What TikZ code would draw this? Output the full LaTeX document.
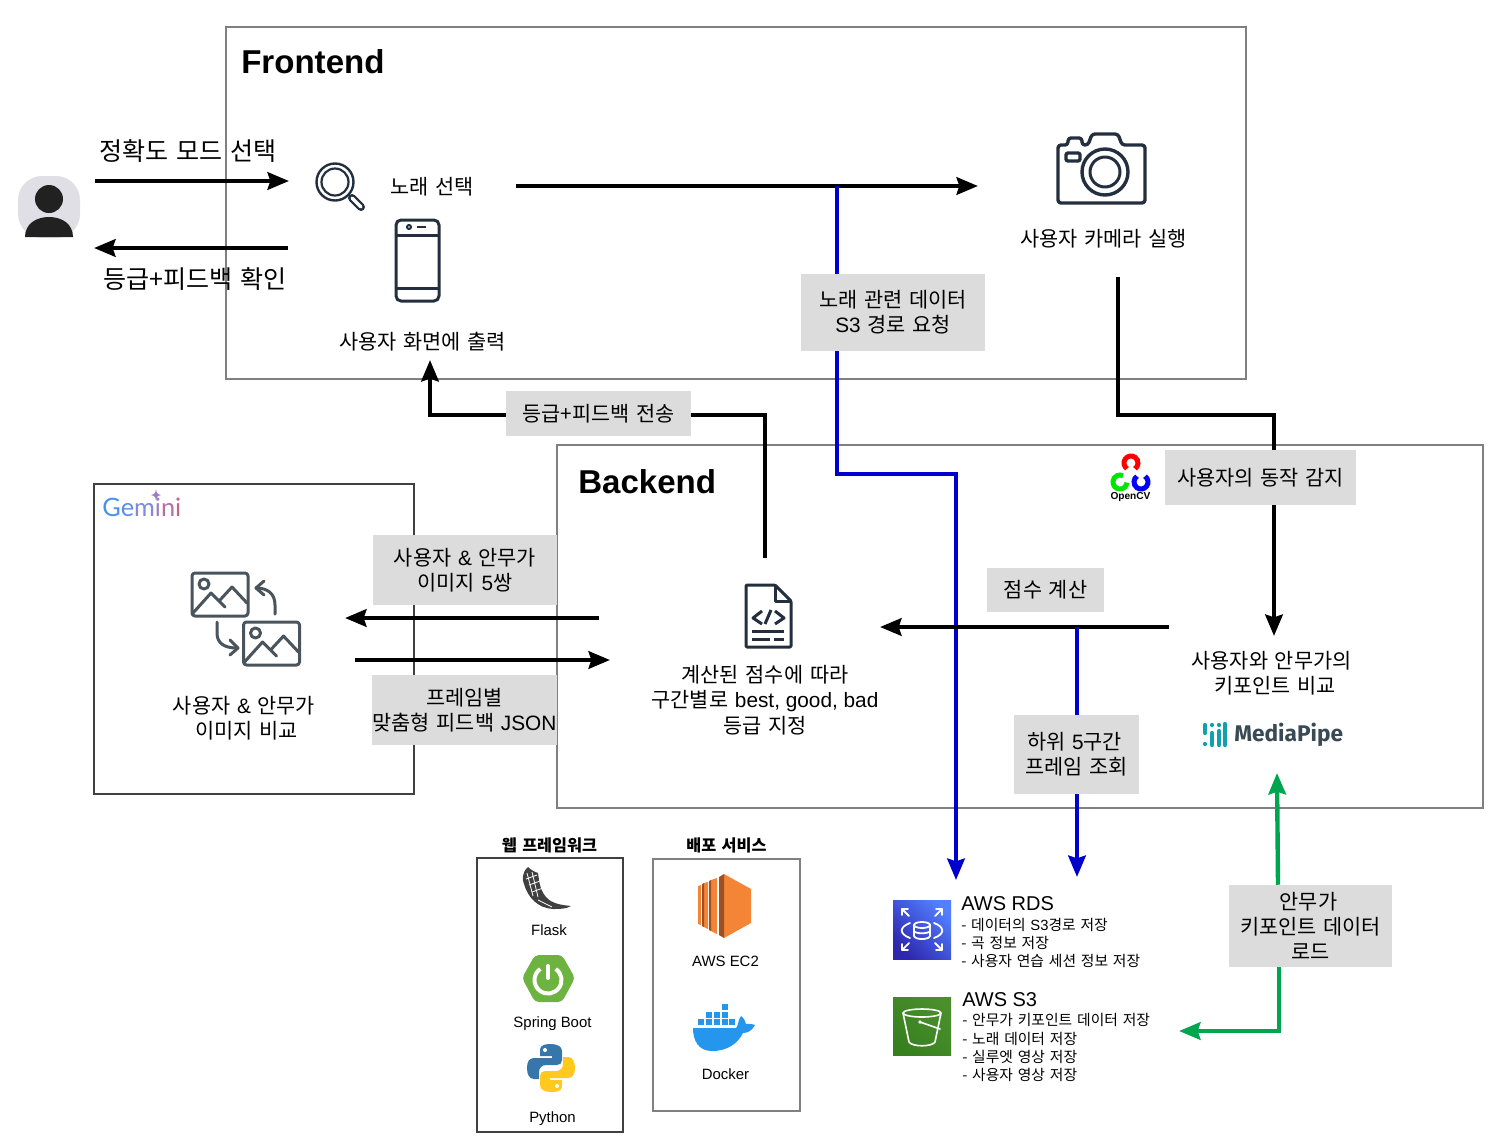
\documentclass[tikz,border=0pt]{standalone}
\usepackage{fontspec}
\setmainfont{Liberation Sans}
\newfontfamily\krfont[WordSpace=1.45]{Noto Sans CJK KR}
\newfontfamily\logofont{Lato}
\newfontfamily\brandfont{Fira Sans}
\usetikzlibrary{arrows.meta, shapes.geometric}
\newdimen\pxu
\pxu=.75pt
\newcommand{\lat}[1]{{\rmfamily #1}}
\newcommand{\krsize}[2]{\krfont\fontsize{#1}{#2}\selectfont}
\definecolor{boxgray}{HTML}{DCDCDC}
\definecolor{framegray}{HTML}{808080}
\definecolor{icondark}{HTML}{232F3E}
\definecolor{imgdark}{HTML}{4A545C}
\definecolor{linkblue}{HTML}{0000CC}
\definecolor{linkgreen}{HTML}{00A550}
\definecolor{usergray}{HTML}{DFDFE5}
\definecolor{mediateal}{HTML}{12A0AE}
\definecolor{mediatext}{HTML}{3A4A55}
\definecolor{springgreen}{HTML}{6DB33F}
\definecolor{pyblue}{HTML}{3776AB}
\definecolor{pyyellow}{HTML}{FFC91E}
\definecolor{rdsdark}{HTML}{2E27AD}
\definecolor{rdslight}{HTML}{527FFF}
\definecolor{sthreedark}{HTML}{38801F}
\definecolor{sthreelight}{HTML}{4A8F2C}
\definecolor{geminiA}{HTML}{4A90F0}
\definecolor{geminiB}{HTML}{5B8DE8}
\definecolor{geminiC}{HTML}{7F8ADA}
\definecolor{geminiD}{HTML}{9C7EC6}
\definecolor{geminiE}{HTML}{B56FA8}
\definecolor{geminiF}{HTML}{C9628A}
\tikzstyle{frame} = [draw=framegray, line width=1.1\pxu]
\tikzstyle{labelbox} = [rectangle,
	fill=boxgray,
	inner sep=0pt,
	text centered,
	align=center,
	font=\krsize{15.6}{18.9}
	]
\tikzstyle{caption} = [inner sep=0pt,
	text centered,
	align=center,
	font=\krsize{15.6}{18.9}
	]
\tikzstyle{bigcaption} = [caption, font=\krsize{18.8}{22}]
\tikzstyle{smalltitle} = [caption, font=\krsize{12.2}{14}\bfseries]
\tikzstyle{techname} = [inner sep=0pt, font=\fontsize{11.2}{13}\selectfont]
\tikzstyle{sectiontitle} = [inner sep=0pt, anchor=west, font=\bfseries\fontsize{24.8}{28}\selectfont]
\tikzstyle{awstitle} = [inner sep=0pt, anchor=west, font=\fontsize{15}{18}\selectfont]
\tikzstyle{awslist} = [inner sep=0pt, anchor=west, font=\krsize{11.1}{13}]
\tikzstyle{iconline} = [draw=icondark, line width=3\pxu, line join=round]
\tikzstyle{imgline} = [draw=imgdark, line width=3\pxu, line join=round, line cap=round]
\tikzstyle{arrow} = [line width=4.4\pxu, -{Stealth[length=16pt, width=13pt, inset=2pt]}]
\tikzstyle{plainlink} = [line width=4.4\pxu]
\tikzstyle{bluearrow} = [arrow, draw=linkblue]
\tikzstyle{bluelink} = [plainlink, draw=linkblue]
\tikzstyle{greenarrow} = [arrow, draw=linkgreen]
\begin{document}
\begin{tikzpicture}[x=.75pt, y=-.75pt]
\useasboundingbox (0,0) rectangle (1509,1143);

\draw [frame] (226,27) rectangle (1246,379);
\draw [frame] (557,445) rectangle (1483,808);
\draw [frame, draw=black!75] (94,484) rectangle (414,794);
\draw [frame, draw=black!75] (477,858) rectangle (623,1132);
\draw [frame] (653,859) rectangle (800,1111);

\node (frontend) [sectiontitle] at (241,62) {Frontend};
\node (backend) [sectiontitle] at (578,482) {Backend};

\node (modetext) [bigcaption] at (188,151) {정확도 모드 선택};
\node (resulttext) [bigcaption] at (195,279) {등급+피드백 확인};
\node (songtext) [caption] at (432,187) {노래 선택};
\node (screentext) [caption] at (422.5,342) {사용자 화면에 출력};
\node (cameratext) [caption] at (1103.5,239) {사용자 카메라 실행};
\node (gemtext) [caption] at (244,718) {사용자 \lat{\&} 안무가\\\hspace*{4pt}이미지 비교};
\node (gradetext) [caption] at (765,700) {계산된 점수에 따라\\구간별로 \lat{best, good, bad}\\등급 지정};
\node (keytext) [caption] at (1271.5,673) {사용자와 안무가의\\\hspace*{5pt}키포인트 비교};

\node (s3req) [labelbox, minimum width=184\pxu, minimum height=77\pxu] at (893,312.5) {노래 관련 데이터\\\lat{S3} 경로 요청};
\node (sendres) [labelbox, minimum width=185\pxu, minimum height=45\pxu] at (598.5,413.5) {등급+피드백 전송};
\node (motion) [labelbox, minimum width=191\pxu, minimum height=55\pxu] at (1260.5,477.5) {사용자의 동작 감지};
\node (score) [labelbox, minimum width=117\pxu, minimum height=44\pxu] at (1045.5,590) {점수 계산};
\node (lowfive) [labelbox, minimum width=125\pxu, minimum height=79\pxu] at (1076.5,754.5) {\hspace*{-3pt}하위 \lat{5}구간\\프레임 조회};
\node (pairs) [labelbox, minimum width=184\pxu, minimum height=70\pxu] at (465,570) {사용자 \lat{\&} 안무가\\이미지 \lat{5}쌍};
\node (feedback) [labelbox, minimum width=185\pxu, minimum height=70\pxu] at (464.5,710) {프레임별\\맞춤형 피드백 \lat{JSON}};
\node (keyload) [labelbox, minimum width=163\pxu, minimum height=82\pxu] at (1310.5,926) {\hspace*{-3pt}안무가\\키포인트 데이터\\로드};

\node (webtitle) [smalltitle] at (549.5,845.5) {웹 프레임워크};
\node (deploytitle) [smalltitle] at (726.5,845.5) {배포 서비스};
\node (flask) [techname] at (549,930) {Flask};
\node (spring) [techname] at (552.5,1024) {Spring Boot};
\node (python) [techname] at (552.5,1118.5) {Python};
\node (ectwo) [techname] at (725.5,961) {AWS EC2};
\node (docker) [techname] at (725.5,1074) {Docker};

\node (rdstitle) [awstitle] at (961,904) {AWS RDS};
\node (rdsa) [awslist] at (961,925) {- 데이터의 \lat{S3}경로 저장};
\node (rdsb) [awslist] at (961,943) {- 곡 정보 저장};
\node (rdsc) [awslist] at (961,961) {- 사용자 연습 세션 정보 저장};
\node (sthreetitle) [awstitle] at (962,1000) {AWS S3};
\node (sthreea) [awslist] at (962,1020) {- 안무가 키포인트 데이터 저장};
\node (sthreeb) [awslist] at (962,1039) {- 노래 데이터 저장};
\node (sthreec) [awslist] at (962,1057) {- 실루엣 영상 저장};
\node (sthreed) [awslist] at (962,1075) {- 사용자 영상 저장};

\node (gemini) [inner sep=0pt, anchor=west, font=\logofont\fontsize{19}{22}\selectfont] at (102,507) {\textcolor{geminiA}{G}\textcolor{geminiB}{e}\textcolor{geminiC}{m}\textcolor{geminiD}{i}\textcolor{geminiE}{n}\textcolor{geminiF}{i}};
\node (mediapipe) [inner sep=0pt, anchor=west, text=mediatext, font=\brandfont\bfseries\fontsize{17}{20}\selectfont] at (1234,735) {MediaPipe};
\node (opencv) [inner sep=0pt, font=\bfseries\fontsize{7.6}{9}\selectfont] at (1130.5,497) {OpenCV};

\coordinate (userout) at (95,181);
\coordinate (searchin) at (289,181);
\coordinate (screenout) at (288,248);
\coordinate (userin) at (94,248);
\coordinate (songout) at (516,186);
\coordinate (camerain) at (978,186);
\coordinate (songjoin) at (837,186);
\coordinate (blueturn) at (837,474);
\coordinate (rdsone) at (956,880);
\coordinate (gradeup) at (765,558);
\coordinate (gradeturn) at (765,415);
\coordinate (screenturn) at (430,415);
\coordinate (screenin) at (430,360);
\coordinate (gradeleft) at (599,618);
\coordinate (gemin) at (345,618);
\coordinate (gemout) at (355,660);
\coordinate (graderight) at (610,660);
\coordinate (keyleft) at (1169,627);
\coordinate (gradein) at (880,627);
\coordinate (scorejoin) at (1077,627);
\coordinate (rdstwo) at (1077,877);
\coordinate (cameraout) at (1118,277);
\coordinate (motionturn) at (1118,415);
\coordinate (motiontop) at (1274,415);
\coordinate (keyin) at (1274,636);
\coordinate (pipein) at (1277,773);
\coordinate (sthreein) at (1179,1031);
\coordinate (loadturn) at (1279,1031);

\draw [arrow] (userout) -- (searchin);
\draw [arrow] (screenout) -- (userin);
\draw [arrow] (songout) -- (camerain);
\draw [bluelink] (songjoin) -- (s3req.north -| songjoin);
\draw [bluearrow] (s3req.south -| songjoin) -- (blueturn) -| (rdsone);
\draw [plainlink] (gradeup) -- (gradeturn) -- (sendres.east |- gradeturn);
\draw [arrow] (sendres.west |- gradeturn) -- (screenturn) -- (screenin);
\draw [arrow] (gradeleft) -- (gemin);
\draw [arrow] (gemout) -- (graderight);
\draw [arrow] (keyleft) -- (gradein);
\draw [bluelink] (scorejoin) -- (lowfive.north -| scorejoin);
\draw [bluearrow] (lowfive.south -| scorejoin) -- (rdstwo);
\draw [plainlink] (cameraout) -- (motionturn) -- (motiontop) -- (motion.north -| motiontop);
\draw [arrow] (motion.south -| motiontop) -- (keyin);
\draw [greenarrow] (keyload.north -| 1278,0) -- (pipein);
\draw [greenarrow] (keyload.south -| loadturn) -- (loadturn) -- (sthreein);

% user
\fill [usergray, rounded corners=24\pxu] (18,176) rectangle (80,238);
\fill [black!87] (49,199) circle (14);
\fill [black!87] (25,237) .. controls (25,224) and (36,217) .. (49,217) .. controls (62,217) and (73,224) .. (73,237) -- cycle;

% search and phone
\draw [iconline, line width=2.4\pxu] (335,182) circle (18.5);
\draw [iconline, line width=2.2\pxu] (335,182) circle (13.5);
\draw [draw=icondark, line width=8\pxu, line cap=round] (352,198) -- (361,207);
\draw [draw=white, line width=3.4\pxu, line cap=round] (352,198) -- (361,207);
\draw [iconline, rounded corners=5\pxu] (396,220) rectangle (439,301);
\draw [iconline] (396,235) -- (439,235);
\draw [iconline] (396,288) -- (439,288);
\draw [draw=icondark, line width=2\pxu] (409,227) circle (2);
\draw [iconline, line width=2.5\pxu] (417,227) -- (426,227);

% camera
\draw [iconline, line width=3.4\pxu, rounded corners=3\pxu] (1058,145) -- (1068,145) -- (1068,138) -- (1082,138) -- (1082,145) -- (1088,145) -- (1092,134) -- (1118,134) -- (1122,145) -- (1145,145) -- (1145,203) -- (1058,203) -- cycle;
\draw [iconline, line width=3.4\pxu, rounded corners=2\pxu] (1066,153) rectangle (1080,161);
\draw [iconline, line width=3.4\pxu] (1105,172) circle (23);
\draw [iconline, line width=3\pxu] (1105,172) circle (15);

% gemini image icon
\fill [draw=none, fill=geminiD] (156,489) .. controls (156.5,493) and (157,494) .. (161,495) .. controls (157,496) and (156.5,497) .. (156,501) .. controls (155.5,497) and (155,496) .. (151,495) .. controls (155,494) and (155.5,493) .. (156,489) -- cycle;
\foreach \dx/\dy in {0/0, 51.5/49}
	{
	\begin{scope}[shift={(\dx,\dy)}]
	\draw [imgline, rounded corners=3\pxu] (192,573) rectangle (248,616);
	\draw [imgline] (204,584) circle (5);
	\draw [imgline] (193,613) -- (211,593) -- (225,607);
	\draw [imgline] (220,600) -- (232,587) -- (247,603);
	\end{scope}
	}
\draw [imgline] (275,614) -- (275,605) .. controls (275,594) and (268,588) .. (256,588);
\draw [imgline] (264,581) -- (256,588) -- (264,595);
\draw [imgline] (217,622) -- (217,633) .. controls (217,643) and (224,648) .. (237,648);
\draw [imgline] (230,640) -- (238,648) -- (230,655);

% document
\draw [iconline, rounded corners=1\pxu] (746,585) -- (775,585) -- (791,601) -- (791,647) -- (746,647) -- cycle;
\draw [iconline] (775,585) -- (775,601) -- (791,601);
\draw [iconline] (762,611) -- (753,618) -- (762,624);
\draw [iconline] (775,611) -- (784,618) -- (775,624);
\draw [iconline] (765,624) -- (771,610);
\draw [iconline] (752,631) -- (784,631);
\draw [iconline] (752,639) -- (770,639);
\draw [iconline] (774,639) -- (784,639);

% opencv
\draw [draw=red, line width=5\pxu] (1131,463) ++(125:7) arc (125:415:7);
\draw [draw=green!90!black, line width=5\pxu] (1120,482) ++(5:7) arc (5:295:7);
\draw [draw=blue, line width=5\pxu] (1141,482) ++(-55:7) arc (-55:235:7);

% mediapipe
\foreach \xa/\ya/\yb in {1205/725/733, 1205/744/744, 1212/725/725, 1212/733/745, 1219/725/725, 1219/731/745, 1225/724/745}
	{
	\draw [draw=mediateal, line width=4.2\pxu, line cap=round] (\xa,\ya) -- (\xa,\yb);
	}

% flask
\fill [black!75] (528,867) .. controls (522,872) and (522,880) .. (524,884) .. controls (528,898) and (538,908) .. (553,909) .. controls (560,909) and (566,909) .. (571,906) .. controls (562,905) and (552,904) .. (546,897) .. controls (539,889) and (539,878) .. (538,873) .. controls (535,872) and (531,870) .. (528,867) -- cycle;
\draw [draw=white, line width=.8\pxu] (527,873) -- (533,896);
\draw [draw=white, line width=.8\pxu] (532,872) -- (538,897);
\draw [draw=white, line width=.8\pxu] (529,885) -- (540,881);
\draw [draw=white, line width=.8\pxu] (538,900) -- (552,907);
\draw [draw=white, line width=.8\pxu] (526,879) -- (537,875);
\draw [draw=white, line width=.8\pxu] (532,892) -- (543,888);

% spring boot
\fill [fill=springgreen, rounded corners=4\pxu] (522,978) -- (535,955) -- (562,955) -- (575,978) -- (562,1002) -- (535,1002) -- cycle;
\draw [draw=white, line width=4\pxu] (548,980) ++(-55:13.5) arc (-55:235:13.5);
\draw [draw=white, line width=4\pxu, line cap=round] (548,966) -- (548,978);

% python
\foreach \rot/\fillc in {0/pyblue, 180/pyyellow}
	{
	\begin{scope}[shift={(527,1044)}, rotate around={\rot:(24,24)}]
	\fill [fill=\fillc] (24,0) .. controls (14,0) and (13,3) .. (13,7) -- (13,12) -- (25,12) -- (25,14) -- (7,14) .. controls (2,14) and (0,18) .. (0,24) .. controls (0,30) and (2,35) .. (7,35) -- (12,35) -- (12,28) .. controls (12,24) and (15,21) .. (19,21) -- (30,21) .. controls (33,21) and (35,19) .. (35,16) -- (35,7) .. controls (35,3) and (31,0) .. (24,0) -- cycle;
	\fill [white] (18,6) circle (2);
	\end{scope}
	}

% ec2
\definecolor{ecdark}{HTML}{9D5025}
\definecolor{eclight}{HTML}{F58536}
\fill [eclight] (724,874) -- (751,889) -- (751,923) -- (724,938) -- cycle;
\fill [ecdark] (719,877) -- (724,874) -- (724,938) -- (719,935) -- cycle;
\fill [eclight] (711,880) -- (717,878) -- (717,934) -- (711,931) -- cycle;
\fill [ecdark] (709,881) -- (711,880) -- (711,931) -- (709,930) -- cycle;
\fill [eclight] (704,883) -- (708,882) -- (708,929) -- (704,927) -- cycle;
\fill [ecdark] (702,884) -- (704,883) -- (704,927) -- (702,926) -- cycle;
\fill [eclight] (698,886) -- (701,885) -- (701,925) -- (698,924) -- cycle;

% docker
\definecolor{dockerblue}{HTML}{2496ED}
\fill [dockerblue] (693,1028) -- (736,1028) .. controls (738,1027) and (738,1020) .. (741,1016) .. controls (745,1019) and (745,1022) .. (746,1024) .. controls (749,1023) and (752,1024) .. (755,1025) .. controls (752,1031) and (747,1033) .. (743,1033) .. controls (738,1043) and (728,1051) .. (712,1051) .. controls (698,1051) and (693,1040) .. (693,1028) -- cycle;
\foreach \bx/\by in {698/1019, 706/1019, 713.5/1019, 721.5/1019, 729/1019, 706/1011.5, 713.5/1011.5, 721.5/1011.5, 721.5/1004}
	{
	\fill [dockerblue] (\bx,\by) rectangle ++(6,6);
	}

% rds
\shade [bottom color=rdsdark, top color=rdslight, shading angle=-45] (893,900) rectangle (951,959);
\tikzstyle{rdsline} = [draw=white, line width=1.8\pxu, line cap=round, line join=round]
\draw [rdsline] (922,925) ellipse (8 and 3);
\draw [rdsline] (914,925) -- (914,936);
\draw [rdsline] (930,925) -- (930,936);
\draw [rdsline] (914,936) .. controls (915,940) and (929,940) .. (930,936);
\draw [rdsline] (914,931) .. controls (915,934) and (929,934) .. (930,931);
\draw [rdsline] (910,923) .. controls (899,927) and (899,934) .. (910,938);
\draw [rdsline] (934,923) .. controls (945,927) and (945,934) .. (934,938);
\foreach \cx/\cy/\sx/\sy in {902/909/1/1, 942/909/-1/1, 902/950/1/-1, 942/950/-1/-1}
	{
	\draw [rdsline] (\cx+7*\sx,\cy+7*\sy) -- (\cx,\cy);
	\draw [rdsline] (\cx+6*\sx,\cy) -- (\cx,\cy) -- (\cx,\cy+6*\sy);
	}

% s3
\shade [bottom color=sthreedark, top color=sthreelight, shading angle=-45] (893,997) rectangle (951,1055);
\tikzstyle{bucketline} = [draw=white, line width=1.6\pxu, line cap=round, line join=round]
\draw [bucketline] (922,1013) ellipse (19 and 4);
\draw [bucketline] (903,1013) -- (909,1042) .. controls (912,1047) and (932,1047) .. (935,1042) -- (941,1013);
\draw [bucketline] (920,1022) -- (940,1029);
\fill [white] (920,1022) circle (1.8);

\end{tikzpicture}
\end{document}
